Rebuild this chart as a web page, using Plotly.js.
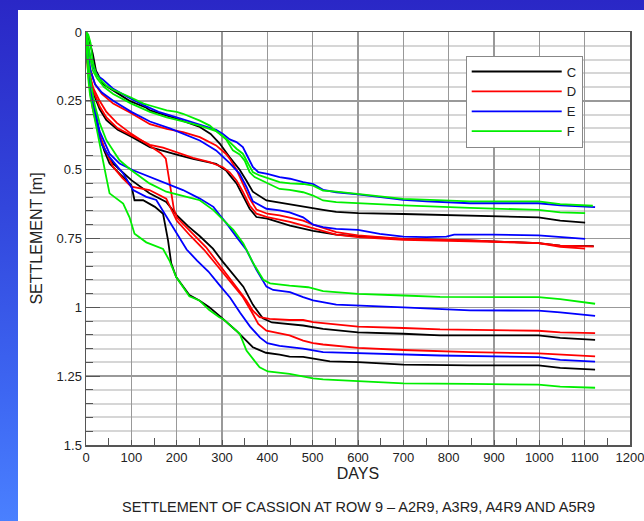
<!DOCTYPE html>
<html><head><meta charset="utf-8">
<script src="https://cdn.plot.ly/plotly-3.0.1.min.js"></script>
<style>
html,body{margin:0;padding:0;}
body{width:644px;height:521px;overflow:hidden;background:linear-gradient(to bottom,#2a27c6 0%,#3246dc 40%,#3d66f2 75%,#4a80ff 100%);position:relative;}
#panel{position:absolute;left:18px;top:10px;width:626px;height:511px;background:#fff;overflow:hidden;}
#chart{width:626px;height:511px;}
</style></head>
<body><div id="panel"><div id="chart"></div></div>
<script>
// ---- DATA (days, settlement in m) ----
// Black (C)
var C1_days = [0,4,15,22,37,59,96,133,141,200,251,275,295,317,339,354,368,398,427,450,479,501,523,552,600,700,847,998,1046,1101];
var C1_set  = [0,0.01,0.08,0.14,0.188,0.212,0.25,0.275,0.285,0.315,0.345,0.37,0.405,0.455,0.50,0.54,0.58,0.612,0.62,0.628,0.636,0.64,0.646,0.653,0.658,0.661,0.667,0.673,0.685,0.692];
var C2_days = [0,3,8,18,30,45,70,100,141,200,236,287,309,317,332,346,361,376,400,450,479,501,552,600,700,847,998,1046,1120];
var C2_set  = [0.04,0.1,0.17,0.23,0.28,0.32,0.355,0.38,0.418,0.445,0.461,0.479,0.503,0.52,0.55,0.594,0.642,0.672,0.678,0.703,0.715,0.722,0.736,0.742,0.751,0.757,0.767,0.776,0.778];
var C3_days = [0,3,8,15,22,30,45,60,100,140,177,200,225,250,280,302,325,347,368,390,410,450,479,523,600,700,781,998,1046,1123];
var C3_set  = [0.02,0.1,0.17,0.25,0.32,0.38,0.44,0.478,0.538,0.586,0.617,0.665,0.705,0.74,0.787,0.835,0.88,0.925,0.99,1.04,1.055,1.062,1.066,1.078,1.091,1.096,1.102,1.102,1.111,1.118];
var C4_days = [0,3,8,15,24,31,40,52,74,100,107,126,152,170,181,188,199,228,250,272,294,302,331,368,397,427,449,479,538,600,700,847,998,1046,1123];
var C4_set  = [0.02,0.1,0.17,0.25,0.32,0.38,0.43,0.478,0.514,0.556,0.611,0.611,0.635,0.66,0.757,0.84,0.89,0.955,0.975,1.0,1.03,1.042,1.084,1.145,1.165,1.172,1.179,1.18,1.196,1.199,1.208,1.211,1.211,1.22,1.226];
// Red (D)
var D1_days = [0,4,10,20,35,60,100,141,178,214,251,287,309,317,332,346,361,376,400,427,450,479,501,552,600,700,847,998,1046,1120];
var D1_set  = [0.03,0.09,0.14,0.19,0.225,0.26,0.295,0.335,0.352,0.364,0.382,0.412,0.443,0.46,0.50,0.55,0.605,0.645,0.66,0.666,0.675,0.685,0.70,0.727,0.739,0.751,0.757,0.767,0.776,0.779];
var D2_days = [0,3,8,18,30,45,70,100,141,170,200,236,273,302,317,332,346,361,376,400,450,479,501,552,600,700,847,998,1046,1101];
var D2_set  = [0.04,0.1,0.16,0.22,0.27,0.31,0.35,0.375,0.41,0.42,0.437,0.457,0.473,0.491,0.51,0.539,0.58,0.63,0.66,0.672,0.69,0.703,0.712,0.736,0.745,0.755,0.76,0.767,0.78,0.787];
var D3_days = [0,3,8,15,30,45,68,100,133,150,165,176,182,188,194,201,221,243,265,287,310,332,354,368,383,405,449,479,501,552,600,700,781,998,1046,1123];
var D3_set  = [0.03,0.09,0.15,0.2,0.25,0.29,0.33,0.37,0.405,0.425,0.44,0.46,0.52,0.59,0.645,0.675,0.709,0.745,0.782,0.83,0.878,0.927,0.975,1.012,1.036,1.042,1.046,1.046,1.054,1.063,1.07,1.075,1.08,1.085,1.091,1.094];
var D4_days = [0,3,8,15,25,40,60,80,100,140,177,200,230,260,290,318,345,365,380,398,427,449,479,501,523,600,700,847,998,1046,1123];
var D4_set  = [0.04,0.12,0.2,0.28,0.35,0.42,0.49,0.53,0.562,0.574,0.605,0.685,0.74,0.79,0.85,0.905,0.96,1.015,1.06,1.085,1.094,1.102,1.121,1.13,1.135,1.147,1.155,1.163,1.167,1.171,1.178];
// Blue (E)
var E1_days = [0,5,12,26,37,59,96,133,160,200,251,287,302,317,332,346,357,368,380,400,427,450,479,501,523,552,600,648,700,751,847,998,1046,1123];
var E1_set  = [0.01,0.05,0.115,0.16,0.172,0.205,0.24,0.27,0.29,0.31,0.335,0.355,0.37,0.39,0.40,0.418,0.454,0.49,0.509,0.515,0.527,0.533,0.545,0.552,0.573,0.582,0.59,0.60,0.61,0.615,0.622,0.622,0.63,0.636];
var E2_days = [0,4,10,20,35,60,100,141,185,214,251,287,317,339,354,368,383,398,427,449,479,501,523,552,600,648,700,751,795,812,898,998,1101];
var E2_set  = [0.02,0.08,0.14,0.19,0.22,0.25,0.29,0.325,0.35,0.37,0.394,0.43,0.476,0.515,0.563,0.615,0.63,0.642,0.648,0.655,0.673,0.70,0.709,0.715,0.719,0.733,0.743,0.745,0.743,0.736,0.736,0.739,0.751];
var E3_days = [0,3,8,15,22,30,52,74,104,140,177,214,251,281,295,310,332,354,376,398,413,450,479,501,552,600,700,847,998,1046,1123];
var E3_set  = [0,0.08,0.16,0.24,0.3,0.36,0.442,0.478,0.502,0.526,0.55,0.574,0.605,0.635,0.665,0.695,0.744,0.792,0.864,0.925,0.937,0.945,0.963,0.975,0.99,0.994,1.0,1.011,1.012,1.018,1.031];
var E4_days = [0,3,8,15,25,35,52,82,104,133,155,177,200,222,245,270,295,318,340,362,384,400,427,449,479,523,600,700,781,998,1046,1123];
var E4_set  = [0.01,0.1,0.18,0.27,0.35,0.41,0.454,0.514,0.574,0.599,0.61,0.67,0.735,0.79,0.83,0.87,0.92,0.965,1.02,1.07,1.11,1.13,1.14,1.145,1.15,1.163,1.167,1.171,1.175,1.181,1.191,1.197];
// Green (F)
var F1_days = [0,5,10,15,22,30,45,60,98,127,141,178,200,214,251,273,287,300,317,332,346,358,368,383,400,427,450,479,501,523,552,600,700,847,998,1046,1118];
var F1_set  = [0,0.01,0.04,0.11,0.15,0.17,0.195,0.21,0.237,0.26,0.267,0.285,0.29,0.297,0.322,0.34,0.36,0.375,0.40,0.424,0.442,0.479,0.509,0.521,0.53,0.545,0.55,0.552,0.558,0.576,0.58,0.588,0.606,0.615,0.615,0.625,0.631];
var F2_days = [0,3,8,15,25,40,60,100,141,178,214,251,287,309,324,339,350,361,372,400,427,449,479,501,523,552,600,700,847,998,1046,1101];
var F2_set  = [0,0.02,0.08,0.14,0.17,0.2,0.225,0.26,0.29,0.31,0.325,0.34,0.36,0.39,0.43,0.445,0.467,0.509,0.527,0.55,0.57,0.573,0.582,0.594,0.612,0.618,0.622,0.63,0.639,0.646,0.655,0.658];
var F3_days = [0,2,6,12,20,30,45,74,100,140,177,222,251,281,303,325,347,369,391,406,449,490,523,600,700,781,998,1046,1123];
var F3_set  = [0,0.05,0.12,0.2,0.27,0.33,0.393,0.466,0.502,0.55,0.58,0.599,0.611,0.647,0.683,0.719,0.768,0.84,0.9,0.913,0.921,0.927,0.941,0.951,0.957,0.962,0.963,0.97,0.987];
var F4_days = [0,2,5,9,17,28,35,45,52,70,82,96,107,133,150,170,184,199,228,250,272,294,302,339,354,383,401,449,501,523,600,700,847,998,1046,1123];
var F4_set  = [0.01,0.1,0.17,0.23,0.3,0.39,0.45,0.53,0.586,0.61,0.623,0.673,0.733,0.764,0.775,0.788,0.83,0.89,0.96,0.975,1.01,1.036,1.042,1.096,1.157,1.218,1.233,1.242,1.258,1.262,1.268,1.276,1.278,1.281,1.288,1.292];

var seriesNames = ['C','D','E','F'];
var seriesColors = ['#000000','#ff0000','#0000ff','#00ee00'];
var groups = [
  [[C1_days,C1_set],[C2_days,C2_set],[C3_days,C3_set],[C4_days,C4_set]],
  [[D1_days,D1_set],[D2_days,D2_set],[D3_days,D3_set],[D4_days,D4_set]],
  [[E1_days,E1_set],[E2_days,E2_set],[E3_days,E3_set],[E4_days,E4_set]],
  [[F1_days,F1_set],[F2_days,F2_set],[F3_days,F3_set],[F4_days,F4_set]]
];

var traces = [];
groups.forEach(function(g, gi){
  g.forEach(function(c, ci){
    traces.push({
      x: c[0], y: c[1], type:'scatter', mode:'lines',
      name: seriesNames[gi], legendgroup: seriesNames[gi], showlegend: ci === 0,
      line: {color: seriesColors[gi], width: 1.8},
      hoverinfo: 'skip'
    });
  });
});

var font = 'Liberation Sans, Arial, Helvetica, sans-serif';
var layout = {
  width: 626, height: 511,
  margin: {l:68, r:14, t:22, b:76},
  paper_bgcolor: '#ffffff', plot_bgcolor: '#ffffff',
  font: {family: font, color:'#222', size:13},
  showlegend: true,
  legend: {x:0.698, y:0.943, xanchor:'left', yanchor:'top', bgcolor:'#fff', bordercolor:'#888', borderwidth:1,
           font:{size:13, color:'#222'}, itemwidth: 90, tracegroupgap: 0},
  xaxis: {
    range:[0,1200], tick0:0, dtick:100, ticks:'inside', ticklen:5, tickcolor:'#555', tickwidth:1,
    showgrid:true, gridcolor:'#999', gridwidth:1.5, zeroline:false,
    showline:true, linecolor:'#555', linewidth:1.5, mirror:true,
    tickfont:{size:13, color:'#222'}, ticklabeloverflow:'allow',
    minor:{dtick:50, ticks:'inside', ticklen:7, tickcolor:'#555', showgrid:false},
    title:{text:'DAYS', font:{size:16, color:'#222'}, standoff:3}
  },
  yaxis: {
    range:[1.5,0], tick0:0, dtick:0.25, ticks:'inside', ticklen:14, tickcolor:'#555', tickwidth:1,
    showgrid:true, gridcolor:'#999', gridwidth:1.5, zeroline:false,
    showline:true, linecolor:'#555', linewidth:1.5, mirror:true,
    tickfont:{size:13, color:'#222'},
    minor:{dtick:0.05, ticks:'inside', ticklen:7, tickcolor:'#555', showgrid:true, gridcolor:'#d6d6d6', gridwidth:2},
    title:{text:'SETTLEMENT [m]', font:{size:16, color:'#222'}, standoff:10}
  },
  annotations: [{
    text:'SETTLEMENT OF CASSION AT ROW 9 – A2R9, A3R9, A4R9 AND A5R9',
    xref:'paper', yref:'paper', x:0.5, y:-0.149, xanchor:'center', yanchor:'middle',
    showarrow:false, font:{size:14.5, color:'#222'}
  }]
};
Plotly.newPlot('chart', traces, layout, {displayModeBar:false, staticPlot:true});
</script></body></html>
